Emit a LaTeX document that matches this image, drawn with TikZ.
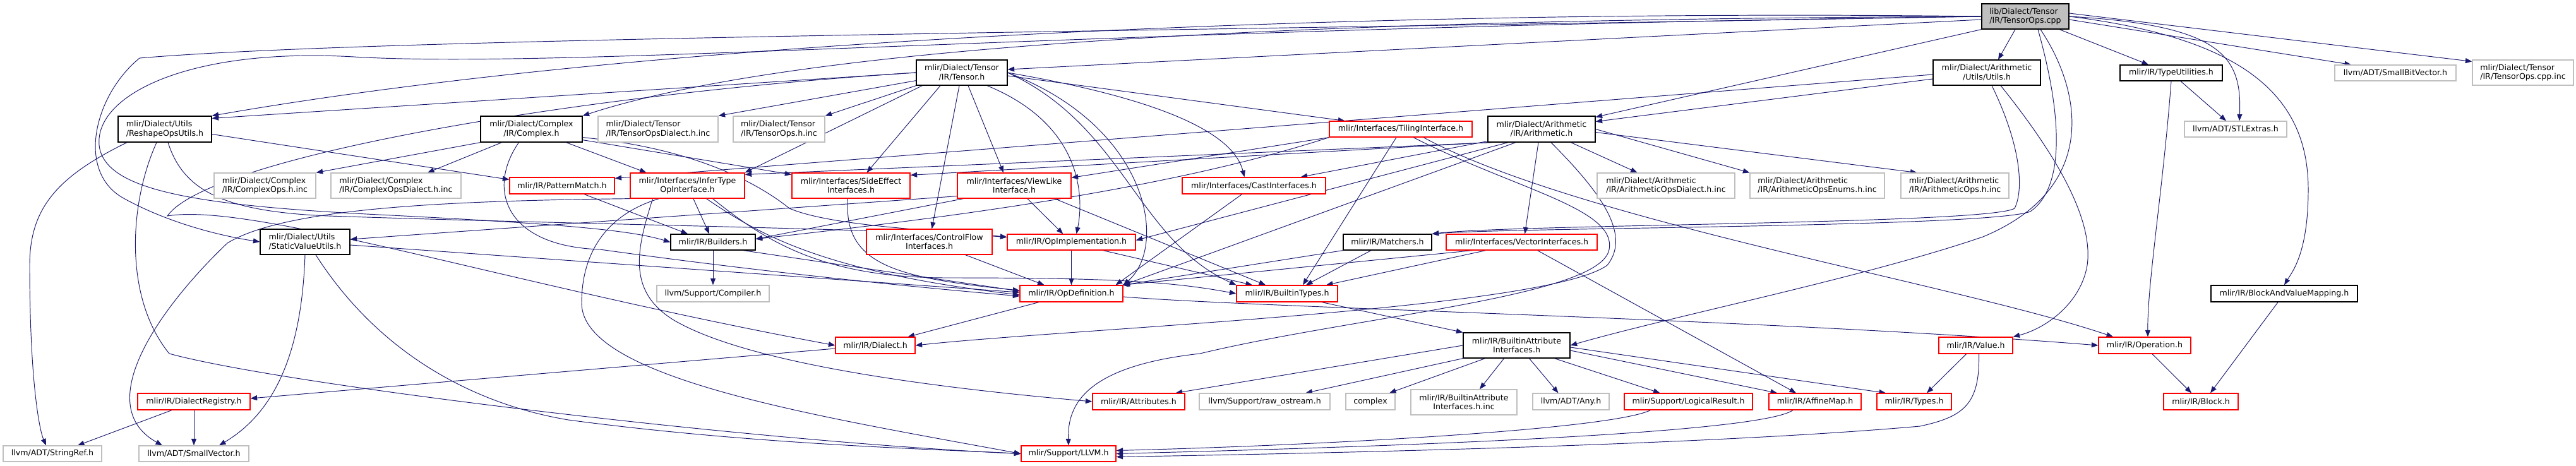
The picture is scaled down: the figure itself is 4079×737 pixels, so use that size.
\documentclass[tikz,border=0pt]{standalone}
\usepackage{fontspec}
\setmainfont{DejaVu Sans}
\usetikzlibrary{arrows.meta,backgrounds}
\definecolor{edgec}{HTML}{191970}
\definecolor{redc}{HTML}{FF0000}
\definecolor{greyc}{HTML}{BFBFBF}
\tikzset{
 gvbase/.style={draw, rectangle, inner sep=0pt, align=center, font=\fontsize{12.6}{14.5}\selectfont, line width=1.25pt, fill=white},
 bbox/.style={gvbase, draw=black},
 rbox/.style={gvbase, draw=redc},
 gbox/.style={gvbase, draw=greyc},
 topbox/.style={gvbase, draw=black, fill=greyc},
 lft/.style={align=left},
 conn/.style={draw=edgec, line width=0.95pt, -{Triangle[length=10.5pt,width=8pt]}},
}
\newcommand\gnode[7]{\node[#1, minimum width={#4-#3}, minimum height={#6-#5}] (#2) at ({(#3+#4)/2},{-(#5+#6)/2}) {#7};}
\begin{document}
\begin{tikzpicture}[x=1pt,y=1pt]
\useasboundingbox (0,0) rectangle (4079,-737);
% ---------- nodes ----------
\gnode{topbox,lft}{T0}{3138}{3276}{6}{46}{lib/Dialect/Tensor\\/IR/TensorOps.cpp}
\gnode{bbox}{AU}{3061}{3231}{95}{135}{mlir/Dialect/Arithmetic\\/Utils/Utils.h}
\gnode{bbox}{TU}{3357}{3519}{103}{128}{mlir/IR/TypeUtilities.h}
\gnode{gbox}{SBV}{3697}{3889}{103}{128}{llvm/ADT/SmallBitVector.h}
\gnode{gbox,lft}{TCI}{3915}{4075}{95}{135}{mlir/Dialect/Tensor\\/IR/TensorOps.cpp.inc}
\gnode{gbox}{STL}{3459}{3621}{192}{217}{llvm/ADT/STLExtras.h}
\gnode{bbox}{TH}{1451}{1595}{95}{135}{mlir/Dialect/Tensor\\/IR/Tensor.h}
\gnode{bbox,lft}{RU}{187}{335}{184}{225}{mlir/Dialect/Utils\\/ReshapeOpsUtils.h}
\gnode{bbox}{CX}{761}{922}{184}{225}{mlir/Dialect/Complex\\/IR/Complex.h}
\gnode{gbox,lft}{TOD}{947}{1137}{184}{225}{mlir/Dialect/Tensor\\/IR/TensorOpsDialect.h.inc}
\gnode{gbox,lft}{TOH}{1161}{1306}{184}{225}{mlir/Dialect/Tensor\\/IR/TensorOps.h.inc}
\gnode{rbox}{TI}{2105}{2331}{192}{217}{mlir/Interfaces/TilingInterface.h}
\gnode{bbox}{AR}{2356}{2526}{184}{225}{mlir/Dialect/Arithmetic\\/IR/Arithmetic.h}
\gnode{gbox,lft}{CO}{339}{500}{274}{314}{mlir/Dialect/Complex\\/IR/ComplexOps.h.inc}
\gnode{gbox,lft}{CD}{524}{730}{274}{314}{mlir/Dialect/Complex\\/IR/ComplexOpsDialect.h.inc}
\gnode{rbox}{PM}{807}{973}{281}{307}{mlir/IR/PatternMatch.h}
\gnode{rbox}{IT}{998}{1179}{274}{314}{mlir/Interfaces/InferType\\OpInterface.h}
\gnode{rbox}{SE}{1254}{1441}{274}{314}{mlir/Interfaces/SideEffect\\Interfaces.h}
\gnode{rbox}{VL}{1516}{1696}{274}{314}{mlir/Interfaces/ViewLike\\Interface.h}
\gnode{rbox}{CI}{1872}{2099}{281}{307}{mlir/Interfaces/CastInterfaces.h}
\gnode{gbox,lft}{AD}{2529}{2747}{274}{314}{mlir/Dialect/Arithmetic\\/IR/ArithmeticOpsDialect.h.inc}
\gnode{gbox,lft}{AE}{2771}{2984}{274}{314}{mlir/Dialect/Arithmetic\\/IR/ArithmeticOpsEnums.h.inc}
\gnode{gbox,lft}{AO}{3010}{3181}{274}{314}{mlir/Dialect/Arithmetic\\/IR/ArithmeticOps.h.inc}
\gnode{bbox,lft}{SV}{412}{554}{363}{403}{mlir/Dialect/Utils\\/StaticValueUtils.h}
\gnode{bbox}{BU}{1062}{1196}{371}{396}{mlir/IR/Builders.h}
\gnode{rbox}{CF}{1372}{1571}{363}{403}{mlir/Interfaces/ControlFlow\\Interfaces.h}
\gnode{rbox}{OI}{1595}{1798}{371}{396}{mlir/IR/OpImplementation.h}
\gnode{bbox}{MA}{2127}{2267}{371}{396}{mlir/IR/Matchers.h}
\gnode{rbox}{VI}{2290}{2529}{371}{396}{mlir/Interfaces/VectorInterfaces.h}
\gnode{gbox}{CP}{1040}{1218}{452}{478}{llvm/Support/Compiler.h}
\gnode{rbox}{OD}{1615}{1778}{452}{478}{mlir/IR/OpDefinition.h}
\gnode{rbox}{BT}{1958}{2118}{452}{478}{mlir/IR/BuiltinTypes.h}
\gnode{bbox}{BVM}{3501}{3733}{452}{478}{mlir/IR/BlockAndValueMapping.h}
\gnode{rbox}{DI}{1323}{1449}{534}{560}{mlir/IR/Dialect.h}
\gnode{bbox}{BAI}{2317}{2486}{527}{567}{mlir/IR/BuiltinAttribute\\Interfaces.h}
\gnode{rbox}{VA}{3070}{3187}{534}{560}{mlir/IR/Value.h}
\gnode{rbox}{OP}{3323}{3469}{534}{560}{mlir/IR/Operation.h}
\gnode{rbox}{DR}{218}{396}{623}{649}{mlir/IR/DialectRegistry.h}
\gnode{rbox}{AT}{1730}{1876}{623}{649}{mlir/IR/Attributes.h}
\gnode{gbox}{RO}{1899}{2106}{623}{649}{llvm/Support/raw\_ostream.h}
\gnode{gbox}{CM}{2131}{2209}{623}{649}{complex}
\gnode{gbox}{BI}{2234}{2402}{617}{657}{mlir/IR/BuiltinAttribute\\Interfaces.h.inc}
\gnode{gbox}{AN}{2427}{2548}{623}{649}{llvm/ADT/Any.h}
\gnode{rbox}{LR}{2572}{2775}{623}{649}{mlir/Support/LogicalResult.h}
\gnode{rbox}{AM}{2801}{2947}{623}{649}{mlir/IR/AffineMap.h}
\gnode{rbox}{TY}{2972}{3090}{623}{649}{mlir/IR/Types.h}
\gnode{rbox}{BL}{3426}{3544}{623}{649}{mlir/IR/Block.h}
\gnode{gbox}{SR}{5}{161}{706}{731}{llvm/ADT/StringRef.h}
\gnode{gbox}{SVec}{220}{394}{706}{731}{llvm/ADT/SmallVector.h}
\gnode{rbox}{LL}{1617}{1767}{706}{731}{mlir/Support/LLVM.h}
% ---------- edges ----------
\begin{scope}[on background layer]
\fill[white] (0,0) rectangle (4079,-737);
% TensorOps.cpp
\draw[conn] ([xshift=-16]T0.south) -- ([xshift=18]AU.north);
\draw[conn] (T0.south west) -- ([yshift=-2]AR.north east);
\draw[conn] (T0.west) .. controls (2200,-30) and (1300,-60) .. (CX.north east);
\draw[conn] ([yshift=-5]T0.west) -- ([yshift=5]TH.east);
\draw[conn] (T0.west) .. controls (2300,-15) and (1100,-50) .. (RU.north east);
\draw[conn] (T0.west) .. controls (1800,-50) and (600,-60) .. (221,-92) .. controls (150,-150) and (120,-270) .. (194,-313) .. controls (260,-350) and (340,-372) .. (SV.west);
\draw[conn] (T0.west) .. controls (1700,-45) and (900,-110) .. (560,-90) .. controls (300,-75) and (150,-150) .. (157,-230) .. controls (165,-300) and (300,-325) .. (600,-340) .. controls (900,-355) and (1000,-365) .. (BU.west);
\draw[conn] (T0.east) .. controls (3550,-60) and (3655,-150) .. (3655,-300) .. controls (3655,-400) and (3630,-430) .. (BVM.north);
\draw[conn] ([xshift=24]T0.south) .. controls (3300,-150) and (3320,-300) .. (3140,-375) .. controls (2950,-440) and (2650,-500) .. (BAI.east);
\draw[conn] ([xshift=20]T0.south) .. controls (3270,-200) and (3265,-300) .. (3215,-335) .. controls (3150,-360) and (2400,-360) .. (MA.north east);
\draw[conn] ([xshift=54]T0.south) -- ([xshift=-36]TU.north);
\draw[conn] (T0.east) .. controls (3520,-40) and (3550,-90) .. ([xshift=6]STL.north);
\draw[conn] ([yshift=-5]T0.east) -- ([xshift=-70]SBV.north);
\draw[conn] ([yshift=5]T0.east) -- ([yshift=-3]TCI.north west);
% Arithmetic Utils.h
\draw[conn] ([yshift=-10]AU.west) -- ([yshift=12]AR.east);
\draw[conn] ([yshift=-3]AU.west) -- ([yshift=-2]PM.north east);
\draw[conn] ([xshift=8]AU.south) .. controls (3200,-230) and (3205,-300) .. (3190,-330) .. controls (3150,-355) and (2400,-355) .. (MA.north east);
\draw[conn] ([xshift=22]AU.south) .. controls (3260,-250) and (3315,-350) .. (3305,-420) .. controls (3295,-480) and (3240,-520) .. (VA.north east);
% Tensor.h
\draw[conn] (TH.west) -- ([yshift=-4]RU.north east);
\draw[conn] ([yshift=8]TH.south west) -- (TOD.north east);
\draw[conn] (TH.south west) -- (TOH.north east);
\draw[conn] ([xshift=10]TH.south west) -- (IT.north east);
\draw[conn] ([xshift=-34]TH.south) -- ([xshift=25]SE.north);
\draw[conn] ([xshift=-4]TH.south) -- ([xshift=4]CF.north);
\draw[conn] ([xshift=10]TH.south) -- ([xshift=-17]VL.north);
\draw[conn] ([xshift=40]TH.south) .. controls (1720,-200) and (1715,-320) .. ([xshift=8]OI.north);
\draw[conn] (TH.east) .. controls (1820,-200) and (1850,-390) .. (OD.north east);
\draw[conn] (TH.east) .. controls (1780,-200) and (1800,-380) .. (BT.north west);
\draw[conn] (TH.east) .. controls (1800,-150) and (1950,-200) .. ([xshift=-15]CI.north);
\draw[conn] ([yshift=-5]TH.east) -- ([xshift=25]TI.north west);
\draw[conn] (TH.west) .. controls (900,-150) and (330,-250) .. (265,-342) .. controls (400,-320) and (800,-450) .. (DI.west);
% Complex.h
\draw[conn] (CX.south west) -- (CO.north east);
\draw[conn] ([xshift=-47]CX.south) -- ([xshift=50]CD.north);
\draw[conn] ([xshift=55]CX.south) -- ([xshift=-65]IT.north);
\draw[conn] ([yshift=4]CX.south east) -- ([yshift=-3]SE.north west);
\draw[conn] ([yshift=8]CX.south east) .. controls (1100,-235) and (1200,-290) .. (1250,-330) .. controls (1320,-360) and (1500,-365) .. ([yshift=8]OI.west);
\draw[conn] ([xshift=-20]CX.south) .. controls (770,-300) and (800,-390) .. (950,-395) .. controls (1200,-430) and (1450,-455) .. ([yshift=-4]OD.west);
% ReshapeOpsUtils.h
\draw[conn] ([yshift=-8]RU.east) -- ([yshift=-4]PM.north west);
\draw[conn] ([xshift=-60]RU.south) .. controls (90,-280) and (47,-330) .. (47,-420) .. controls (47,-600) and (62,-680) .. ([xshift=-10]SR.north);
\draw[conn] ([xshift=-13]RU.south) .. controls (205,-320) and (195,-470) .. (268,-560) .. controls (450,-610) and (1200,-700) .. (LL.west);
\draw[conn] ([xshift=5]RU.south) .. controls (290,-300) and (350,-335) .. (520,-342) .. controls (900,-355) and (1400,-362) .. ([yshift=8]OI.west);
% StaticValueUtils.h
\draw[conn] (SV.south) .. controls (478,-550) and (440,-650) .. ([xshift=40]SVec.north);
\draw[conn] ([xshift=17]SV.south) .. controls (600,-560) and (750,-640) .. (900,-665) .. controls (1200,-705) and (1500,-712) .. (LL.west);
\draw[conn] ([yshift=-5]SV.east) -- ([yshift=2]OD.west);
% DialectRegistry, Dialect
\draw[conn] ([xshift=-35]DR.south) -- ([xshift=40]SR.north);
\draw[conn] (DR) -- (SVec);
\draw[conn] ([yshift=-5]DI.west) -- ([yshift=5]DR.east);
% InferTypeOpInterface.h
\draw[conn] (IT) -- (BU);
\draw[conn] ([xshift=30]IT.south) .. controls (1200,-370) and (1300,-430) .. ([yshift=-2]OD.west);
\draw[conn] ([xshift=40]IT.south) .. controls (1210,-380) and (1300,-440) .. (1500,-440) .. controls (1750,-440) and (1850,-445) .. (BT.west);
\draw[conn] ([xshift=-55]IT.south) .. controls (1010,-390) and (990,-460) .. (1067,-507) .. controls (1200,-585) and (1550,-620) .. (AT.west);
\draw[conn] (IT.south west) .. controls (700,-318) and (450,-330) .. (360,-385) .. controls (260,-480) and (140,-640) .. ([xshift=-50]SVec.north);
\draw[conn] ([xshift=-45]IT.south) .. controls (960,-340) and (921,-400) .. (921,-480) .. controls (921,-600) and (1300,-660) .. (LL.west);
% SideEffect, ControlFlow, Cast, ViewLike
\draw[conn] ([xshift=-5]SE.south) .. controls (1335,-420) and (1420,-440) .. ([yshift=5]OD.west);
\draw[conn] ([xshift=57]CF.south) -- ([xshift=-43]OD.north);
\draw[conn] (CI) -- ([xshift=-12]OD.north east);
\draw[conn] ([yshift=4]VL.south west) -- ([yshift=4]SV.east);
\draw[conn] ([xshift=10]VL.south west) -- ([yshift=5]BU.east);
\draw[conn] (VL) -- (OI);
\draw[conn] ([xshift=64]VL.south) -- ([xshift=-34]BT.north);
% PatternMatch, Builders, OpImplementation, OpDefinition
\draw[conn] ([xshift=35]PM.south) -- ([xshift=-40]BU.north);
\draw[conn] (BU) -- (CP);
\draw[conn] ([xshift=48]BU.south) -- ([yshift=4]OD.west);
\draw[conn] (OI) -- (OD);
\draw[conn] ([xshift=50]OI.south) -- ([xshift=-55]BT.north);
\draw[conn] (OD) -- (DI);
\draw[conn] ([yshift=-5]OD.east) .. controls (2000,-488) and (2800,-505) .. (OP.west);
% Matchers, VectorInterfaces
\draw[conn] ([xshift=-26]MA.south) -- ([xshift=30]BT.north);
\draw[conn] (MA.south west) -- (OD.north east);
\draw[conn] ([xshift=-57]VI.south) -- ([xshift=62]BT.north);
\draw[conn] ([xshift=-78]VI.south) -- ([xshift=-2]OD.north east);
\draw[conn] ([xshift=25]VI.south) -- ([xshift=-30]AM.north);
% TilingInterface.h
\draw[conn] (TI.south west) .. controls (1850,-300) and (1500,-345) .. ([yshift=5]BU.east);
\draw[conn] (TI.south west) -- ([yshift=-8]VL.north east);
\draw[conn] ([xshift=-7]TI.south) -- ([xshift=25]BT.north);
\draw[conn] ([xshift=20]TI.south) .. controls (2400,-300) and (2560,-330) .. (2548,-395) .. controls (2535,-470) and (2150,-500) .. (1900,-560) .. controls (1720,-580) and (1690,-640) .. (LL.north);
\draw[conn] ([xshift=36]TI.south) .. controls (2500,-350) and (3100,-450) .. ([xshift=-50]OP.north);
% Arithmetic.h
\draw[conn] (AR) -- (AD);
\draw[conn] (AR.east) -- (AE.north west);
\draw[conn] ([yshift=-5]AR.east) -- ([xshift=-60]AO.north);
\draw[conn] ([xshift=-5]AR.south) -- ([xshift=5]VI.north);
\draw[conn] ([yshift=2]AR.south west) -- ([xshift=-40]CI.north east);
\draw[conn] (AR.south west) -- ([yshift=-4]SE.north east);
\draw[conn] ([xshift=8]AR.south west) -- ([yshift=-3]IT.north east);
\draw[conn] ([xshift=-53]AR.south) -- ([yshift=3]OI.east);
\draw[conn] ([xshift=-41]AR.south) -- (OD.north east);
\draw[conn] ([xshift=15]AR.south) .. controls (2530,-300) and (2585,-370) .. (2545,-420) .. controls (2450,-490) and (1700,-520) .. (DI.east);
% BuiltinTypes, BuiltinAttributeInterfaces
\draw[conn] ([xshift=55]BT.south) -- (BAI.north west);
\draw[conn] (BAI.west) -- ([xshift=-15]AT.north east);
\draw[conn] (BAI.south west) -- ([xshift=65]RO.north);
\draw[conn] ([xshift=-50]BAI.south) -- ([xshift=30]CM.north);
\draw[conn] ([xshift=-20]BAI.south) -- ([xshift=25]BI.north);
\draw[conn] ([xshift=20]BAI.south) -- ([xshift=-20]AN.north);
\draw[conn] ([xshift=60]BAI.south) -- ([xshift=-45]LR.north);
\draw[conn] ([yshift=-8]BAI.east) -- ([xshift=-60]AM.north);
\draw[conn] ([yshift=-3]BAI.east) -- ([xshift=-45]TY.north);
% LogicalResult, AffineMap, Value
\draw[conn] ([xshift=-60]LR.south) .. controls (2550,-680) and (2100,-705) .. ([yshift=5]LL.east);
\draw[conn] ([xshift=-35]AM.south) .. controls (2780,-690) and (2100,-710) .. (LL.east);
\draw[conn] ([xshift=5]VA.south) .. controls (3135,-640) and (3110,-660) .. (3040,-675) .. controls (2700,-705) and (2100,-718) .. ([yshift=-5]LL.east);
\draw[conn] ([xshift=-15]VA.south) -- ([xshift=20]TY.north);
% Operation, BlockAndValueMapping, TypeUtilities
\draw[conn] ([xshift=12]OP.south) -- ([xshift=-15]BL.north);
\draw[conn] ([xshift=-10]BVM.south) -- ([xshift=15]BL.north);
\draw[conn] (TU.south) .. controls (3425,-300) and (3400,-450) .. ([xshift=5]OP.north);
\draw[conn] ([xshift=15]TU.south) -- ([xshift=-15]STL.north);
\end{scope}
\end{tikzpicture}
\end{document}
